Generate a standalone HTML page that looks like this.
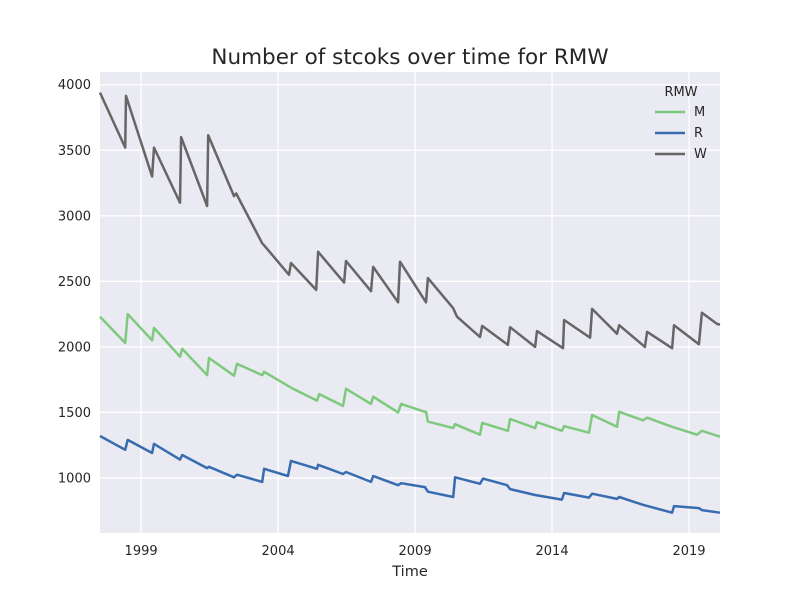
<!DOCTYPE html>
<html><head><meta charset="utf-8"><style>
body{margin:0;background:#fff;}
svg{display:block;font-family:"DejaVu Sans","Liberation Sans",sans-serif;}
</style></head><body>
<svg id="chart" width="800" height="600" viewBox="0 0 800 600">
<rect x="0" y="0" width="800" height="600" fill="#fff"/>
<rect x="100" y="72" width="620" height="461" fill="#EAEAF2"/>
<g id="grid"></g>
<g id="series"></g>
<g id="ticks"></g>
<text x="410" y="64" text-anchor="middle" font-size="21.5" fill="#262626">Number of stcoks over time for RMW</text>
<text x="410" y="576" text-anchor="middle" font-size="14.5" fill="#262626">Time</text>
<g>
<text x="681" y="96" text-anchor="middle" font-size="13" fill="#262626">RMW</text>
<g><line x1="655" y1="112" x2="685" y2="112" stroke="#7fc97f" stroke-width="2.5"/><text x="694" y="116" font-size="13" fill="#262626">M</text></g>
<g><line x1="655" y1="133" x2="685" y2="133" stroke="#386cb0" stroke-width="2.5"/><text x="694" y="137" font-size="13" fill="#262626">R</text></g>
<g><line x1="655" y1="154" x2="685" y2="154" stroke="#666666" stroke-width="2.5"/><text x="694" y="158" font-size="13" fill="#262626">W</text></g>
</g>
</svg>
<script>
const xTicks = [1999, 2004, 2009, 2014, 2019];
const yTicks = [1000, 1500, 2000, 2500, 3000, 3500, 4000];
const wYears = [1997.50,1998.42,1998.45,1999.40,1999.47,2000.42,2000.46,2001.41,2001.45,2002.39,2002.47,2003.42,2003.49,2004.40,2004.47,2005.39,2005.46,2006.41,2006.48,2007.39,2007.47,2008.38,2008.45,2009.40,2009.47,2010.39,2010.53,2011.37,2011.45,2012.39,2012.47,2013.38,2013.45,2014.40,2014.44,2015.39,2015.46,2016.37,2016.45,2017.39,2017.47,2018.38,2018.45,2019.36,2019.47,2020.02,2020.13];
const wValues = [3940,3520,3915,3300,3520,3100,3600,3075,3615,3150,3170,2790,2775,2550,2640,2435,2725,2490,2655,2425,2610,2340,2650,2340,2525,2295,2230,2075,2160,2015,2150,2000,2120,1990,2205,2070,2290,2100,2165,2000,2115,1990,2165,2020,2260,2175,2170];
const mYears = [1997.50,1998.42,1998.51,1999.40,1999.47,2000.42,2000.50,2001.41,2001.48,2002.39,2002.50,2003.42,2003.49,2004.51,2005.42,2005.50,2006.37,2006.48,2007.39,2007.47,2008.38,2008.49,2009.36,2009.40,2009.47,2010.39,2010.46,2011.37,2011.45,2012.39,2012.47,2013.38,2013.45,2014.36,2014.44,2015.35,2015.46,2016.37,2016.45,2017.32,2017.47,2018.38,2019.29,2019.47,2020.13];
const mValues = [2230,2030,2250,2050,2145,1925,1985,1785,1915,1780,1870,1785,1810,1685,1590,1640,1550,1680,1565,1620,1500,1565,1505,1505,1430,1380,1410,1330,1420,1360,1450,1380,1425,1360,1395,1345,1480,1390,1505,1440,1460,1390,1330,1360,1315];
const rYears = [1997.50,1998.42,1998.51,1999.40,1999.47,2000.42,2000.50,2001.41,2001.48,2002.39,2002.50,2003.42,2003.49,2004.36,2004.47,2005.42,2005.46,2006.37,2006.48,2007.39,2007.47,2008.38,2008.49,2009.36,2009.47,2010.39,2010.46,2011.37,2011.48,2012.36,2012.47,2013.38,2014.36,2014.44,2015.35,2015.46,2016.37,2016.45,2017.32,2018.38,2018.45,2019.36,2019.47,2020.13];
const rValues = [1320,1215,1290,1190,1260,1140,1175,1075,1085,1005,1025,970,1070,1015,1130,1070,1100,1030,1045,970,1015,945,960,930,895,855,1005,955,995,945,915,870,835,885,850,880,840,855,795,735,785,770,755,735];
const seriesNames = ['M','R','W'];
const seriesColors = ['#7fc97f','#386cb0','#666666'];

const X0=100,X1=720,Y0=533,Y1=72;
const xMin=1997.5,xMax=2020.13,yMin=580,yMax=4097;
function xs(v){return X0+(v-xMin)/(xMax-xMin)*(X1-X0);}
function ys(v){return Y0-(v-yMin)/(yMax-yMin)*(Y0-Y1);}
const NS='http://www.w3.org/2000/svg';
const grid=document.getElementById('grid'),ticks=document.getElementById('ticks'),sg=document.getElementById('series');
xTicks.forEach(t=>{
  const l=document.createElementNS(NS,'line');
  l.setAttribute('x1',xs(t));l.setAttribute('x2',xs(t));l.setAttribute('y1',Y1);l.setAttribute('y2',Y0);
  l.setAttribute('stroke','#fff');l.setAttribute('stroke-width','1.3');
  
  
  grid.appendChild(l);
  const tx=document.createElementNS(NS,'text');
  tx.setAttribute('x',xs(t));tx.setAttribute('y',555);tx.setAttribute('text-anchor','middle');
  tx.setAttribute('font-size','13');tx.setAttribute('fill','#262626');tx.textContent=t;
  
  
  ticks.appendChild(tx);
});
yTicks.forEach(t=>{
  const l=document.createElementNS(NS,'line');
  l.setAttribute('x1',X0);l.setAttribute('x2',X1);l.setAttribute('y1',ys(t));l.setAttribute('y2',ys(t));
  l.setAttribute('stroke','#fff');l.setAttribute('stroke-width','1.3');
  
  
  grid.appendChild(l);
  const tx=document.createElementNS(NS,'text');
  tx.setAttribute('x',91);tx.setAttribute('y',ys(t)+4.5);tx.setAttribute('text-anchor','end');
  tx.setAttribute('font-size','13');tx.setAttribute('fill','#262626');tx.textContent=t;
  
  
  ticks.appendChild(tx);
});
const allYears=[mYears,rYears,wYears],allVals=[mValues,rValues,wValues];
seriesNames.forEach((n,i)=>{
  const p=document.createElementNS(NS,'polyline');
  p.setAttribute('points',allYears[i].map((y,j)=>xs(y).toFixed(1)+','+ys(allVals[i][j]).toFixed(1)).join(' '));
  p.setAttribute('fill','none');p.setAttribute('stroke',seriesColors[i]);p.setAttribute('stroke-width','2.5');
  p.setAttribute('stroke-linejoin','round');
  
  
  sg.appendChild(p);
});
</script>
</body></html>
